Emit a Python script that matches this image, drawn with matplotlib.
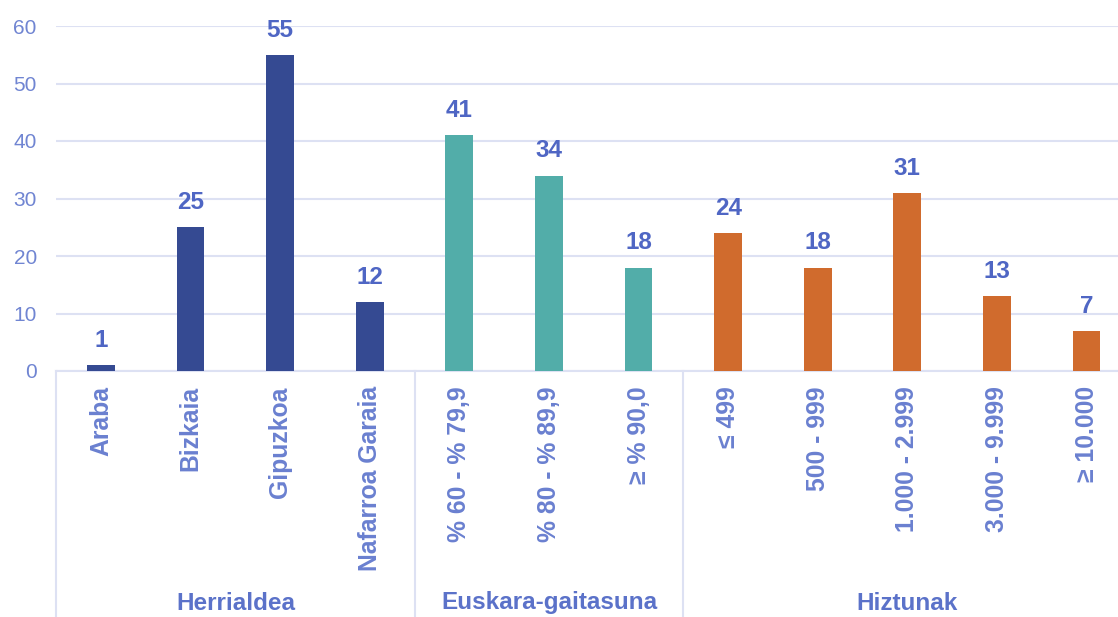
import matplotlib
matplotlib.use("Agg")
import matplotlib.pyplot as plt
import matplotlib.transforms as mtransforms

plt.rcParams['font.family'] = ['Liberation Sans', 'DejaVu Sans']

categories = ["Araba", "Bizkaia", "Gipuzkoa", "Nafarroa Garaia",
              "% 60 - % 79,9", "% 80 - % 89,9", "≥ % 90,0",
              "≤ 499", "500 - 999", "1.000 - 2.999", "3.000 - 9.999", "≥ 10.000"]
values = [1, 25, 55, 12, 41, 34, 18, 24, 18, 31, 13, 7]
groups = ["Herrialdea", "Euskara-gaitasuna", "Hiztunak"]
group_sizes = [4, 3, 5]
group_colors = ["#354A92", "#52ADA9", "#D06B2D"]
yticks = [0, 10, 20, 30, 40, 50, 60]

W, H = 1118, 617
fig = plt.figure(figsize=(W / 100, H / 100), dpi=100)
left_px, right_px, top_px, base_px = 56.2, 1131.3, 26, 371
ax = fig.add_axes([left_px / W, (H - base_px) / H, (right_px - left_px) / W, (base_px - top_px) / H])

colors = []
for c, n in zip(group_colors, group_sizes):
    colors += [c] * n

x = list(range(len(categories)))
ax.bar(x, values, width=0.31, color=colors, zorder=3)

label_color = "#4F66C4"
tick_color = "#7085D2"
grid_color = "#DDE1F3"

for xi, v in zip(x, values):
    ax.annotate(str(v), (xi, v), xytext=(0, 9.5), textcoords="offset points",
                ha="center", va="bottom", fontsize=17.5, fontweight="bold",
                color=label_color, annotation_clip=False)

ax.set_xlim(-0.5, len(categories) - 0.5)
ax.set_ylim(0, 60)
ax.set_yticks(yticks)
ax.yaxis.grid(True, color=grid_color, linewidth=1.5, zorder=0)
ax.set_axisbelow(True)
for s in ["top", "right", "left"]:
    ax.spines[s].set_visible(False)
ax.spines["bottom"].set_color(grid_color)
ax.spines["bottom"].set_linewidth(1.5)

ax.tick_params(axis="y", length=0, pad=14, labelsize=15, labelcolor=tick_color)
ax.set_xticks(x)
ax.set_xticklabels(categories, rotation=90, fontsize=17.8, fontweight="bold",
                   color="#6A80D0", va="top", ha="center")
ax.tick_params(axis="x", length=0, pad=11)

# group separators
trans = mtransforms.blended_transform_factory(ax.transData, ax.transAxes)
bottom_frac = -(H - base_px) / (base_px - top_px)
bounds = [-0.5]
acc = -0.5
for n in group_sizes:
    acc += n
    bounds.append(acc)
for b in bounds[:-1]:
    ax.plot([b, b], [0, bottom_frac], transform=trans, color=grid_color,
            linewidth=1.5, clip_on=False)

start = -0.5
for g, n in zip(groups, group_sizes):
    center = start + n / 2
    ax.text(center, 1 - 603 / H, g, transform=mtransforms.blended_transform_factory(ax.transData, fig.transFigure),
            ha="center", va="center", fontsize=17.5, fontweight="bold", color="#5B72C9")
    start += n

fig.savefig("out.png", dpi=100)
